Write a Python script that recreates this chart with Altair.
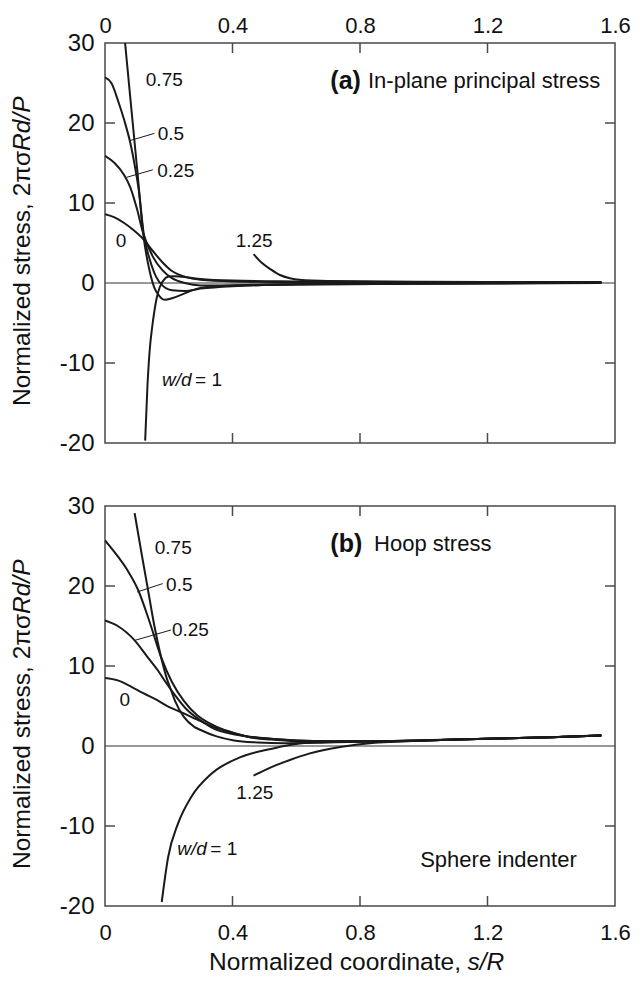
import altair as alt
import pandas as pd

# ---------------- data ----------------
# Panel (a) In-plane principal stress : s/R values and normalized stress
a0_s = [0, 0.03, 0.06, 0.09, 0.12, 0.15, 0.18, 0.21, 0.25, 0.3, 0.4, 0.6, 1.0, 1.557]
a0_v = [8.6, 8.2, 7.5, 6.6, 5.5, 4.0, 2.6, 1.5, 0.8, 0.4, 0.2, 0.1, 0.1, 0.1]
a25_s = [0, 0.03, 0.06, 0.08, 0.1, 0.12, 0.15, 0.18, 0.21, 0.25, 0.3, 0.4, 0.6, 1.0, 1.557]
a25_v = [15.9, 15.0, 13.5, 11.9, 9.3, 6.2, 3.3, 1.6, 0.6, 0.0, -0.3, -0.3, -0.15, 0.0, 0.1]
a5_s = [0, 0.02, 0.044, 0.06, 0.08, 0.095, 0.106, 0.122, 0.14, 0.16, 0.18, 0.21, 0.25, 0.3, 0.4, 0.6, 1.0, 1.557]
a5_v = [25.7, 25.0, 22.4, 20.4, 17.4, 14.3, 11.6, 6.0, 3.0, 0.8, -0.3, -0.9, -1.0, -0.7, -0.4, -0.2, -0.1, 0.05]
a75_s = [0.063, 0.08, 0.1, 0.121, 0.14, 0.155, 0.17, 0.188, 0.21, 0.25, 0.29, 0.35, 0.5, 1.0, 1.557]
a75_v = [30.0, 22.9, 14.6, 5.8, 1.5, -0.6, -1.6, -2.1, -1.9, -1.3, -0.7, -0.4, -0.2, -0.1, 0.0]
a1_s = [0.126, 0.133, 0.14, 0.148, 0.155, 0.162, 0.172, 0.183, 0.2, 0.22, 0.26, 0.3, 0.4, 0.6, 1.0, 1.557]
a1_v = [-19.7, -13.0, -8.5, -5.5, -3.5, -1.9, -0.5, 0.3, 0.8, 0.85, 0.7, 0.5, 0.3, 0.2, 0.1, 0.1]
a125_s = [0.466, 0.49, 0.52, 0.549, 0.58, 0.61, 0.7, 1.0, 1.557]
a125_v = [3.6, 2.6, 1.7, 1.0, 0.6, 0.4, 0.25, 0.15, 0.1]

# Panel (b) Hoop stress
b0_s = [0, 0.04, 0.083, 0.12, 0.165, 0.2, 0.24, 0.3, 0.34, 0.4, 0.454, 0.52, 0.6, 0.7, 0.85, 1.0, 1.2, 1.4, 1.557]
b0_v = [8.5, 8.2, 7.4, 6.6, 5.7, 4.9, 4.2, 3.1, 2.4, 1.7, 1.1, 0.8, 0.6, 0.55, 0.6, 0.7, 0.9, 1.1, 1.3]
b25_s = [0, 0.04, 0.093, 0.13, 0.165, 0.19, 0.217, 0.258, 0.3, 0.34, 0.4, 0.45, 0.52, 0.6, 0.7, 0.85, 1.0, 1.2, 1.4, 1.557]
b25_v = [15.7, 15.0, 13.2, 11.3, 9.5, 8.0, 6.5, 4.5, 3.2, 2.2, 1.5, 1.2, 0.9, 0.7, 0.6, 0.6, 0.7, 0.9, 1.1, 1.3]
b5_s = [0, 0.042, 0.07, 0.104, 0.14, 0.176, 0.21, 0.248, 0.29, 0.33, 0.38, 0.444, 0.52, 0.6, 0.7, 0.85, 1.0, 1.2, 1.4, 1.557]
b5_v = [25.7, 23.6, 22.0, 19.5, 15.5, 11.1, 8.0, 5.6, 3.8, 2.8, 1.9, 1.2, 0.9, 0.7, 0.6, 0.6, 0.7, 0.9, 1.1, 1.35]
b75_s = [0.093, 0.115, 0.135, 0.155, 0.176, 0.195, 0.207, 0.22, 0.248, 0.28, 0.3, 0.35, 0.405, 0.48, 0.56, 0.7, 0.85, 1.0, 1.2, 1.4, 1.557]
b75_v = [29.1, 24.0, 19.5, 15.0, 11.1, 8.3, 7.0, 5.6, 3.6, 2.4, 2.0, 1.2, 0.7, 0.45, 0.35, 0.45, 0.55, 0.7, 0.9, 1.1, 1.3]
b1_s = [0.178, 0.198, 0.229, 0.27, 0.333, 0.425, 0.528, 0.61, 0.7, 0.85, 1.0, 1.2, 1.4, 1.557]
b1_v = [-19.5, -13.9, -9.7, -6.4, -3.5, -1.4, -0.3, 0.3, 0.5, 0.6, 0.7, 0.9, 1.1, 1.3]
b125_s = [0.466, 0.5, 0.537, 0.58, 0.64, 0.743, 0.846, 0.95, 1.0, 1.2, 1.4, 1.557]
b125_v = [-3.7, -3.05, -2.4, -1.75, -0.95, -0.1, 0.4, 0.6, 0.7, 0.9, 1.1, 1.3]

curve_names = ["0", "0.25", "0.5", "0.75", "1", "1.25"]
panel_a = [(a0_s, a0_v), (a25_s, a25_v), (a5_s, a5_v), (a75_s, a75_v), (a1_s, a1_v), (a125_s, a125_v)]
panel_b = [(b0_s, b0_v), (b25_s, b25_v), (b5_s, b5_v), (b75_s, b75_v), (b1_s, b1_v), (b125_s, b125_v)]

# curve labels: text, s, value
a_lab_text = ["0.75", "0.5", "0.25", "0", "1.25"]
a_lab_s = [0.186, 0.207, 0.222, 0.050, 0.468]
a_lab_v = [25.4, 18.65, 14.06, 5.3, 5.3]
b_lab_text = ["0.75", "0.5", "0.25", "0", "1.25"]
b_lab_s = [0.214, 0.233, 0.268, 0.062, 0.470]
b_lab_v = [24.7, 20.1, 14.5, 5.7, -5.9]

# leader lines: s1, v1, s2, v2
a_lead = [(0.078, 17.8, 0.155, 18.7), (0.067, 13.2, 0.150, 14.15)]
b_lead = [(0.101, 19.25, 0.181, 20.3), (0.093, 13.2, 0.207, 14.5)]

# w/d = 1 label position (left edge)
a_wd = (0.179, -12.1)
b_wd = (0.227, -12.9)

x_ticks = [0, 0.4, 0.8, 1.2, 1.6]
y_ticks = [-20, -10, 0, 10, 20, 30]
inner_x_ticks = [0.4, 0.8, 1.2]
inner_y_ticks = [-10, 10, 20]

W, H = 510, 400
FONT = "Liberation Sans"
INK = "#1a1a1a"
TXT = "#111111"
FRAME = "#4a4a4a"
XTICK_FS = 22
YTICK_FS = 24
TITLE_FS = 24.5


def curves_df(panel):
    rows = []
    for name, (ss, vv) in zip(curve_names, panel):
        for s, v in zip(ss, vv):
            rows.append({"s": s, "v": v, "curve": name})
    return pd.DataFrame(rows)


def txt(text, x, y, **kw):
    params = dict(font=FONT, color=TXT)
    params.update(kw)
    return alt.Chart(pd.DataFrame({"k": [0]})).mark_text(**params).encode(
        x=x, y=y, text=alt.value(text))


def make_panel(panel, lab_text, lab_s, lab_v, leads, wd, title_bold, title_rest, rest_s,
               top_axis, bottom_title=False, extra=None):
    xscale = alt.Scale(domain=[0, 1.6], nice=False, zero=False)
    yscale = alt.Scale(domain=[-20, 30], nice=False, zero=False)
    common = dict(values=x_ticks, ticks=False, domain=False, grid=False,
                  labelFontSize=XTICK_FS, labelFlush=False, labelOverlap=False,
                  labelExpr="datum.value + ''", title=None, labelColor=TXT)
    if top_axis:
        xaxis = alt.Axis(orient="top", labelPadding=6, **common)
    else:
        xaxis = alt.Axis(orient="bottom", labelPadding=16, **common)
    yaxis = alt.Axis(values=y_ticks, ticks=False, domain=False, grid=False,
                     labelFontSize=YTICK_FS, labelPadding=11, labelFlush=False,
                     labelExpr="datum.value + ''", title=None, labelColor=TXT)

    df = curves_df(panel)
    lines = alt.Chart(df).mark_line(color=INK, strokeWidth=2, interpolate="monotone",
                                    clip=True).encode(
        x=alt.X("s:Q", scale=xscale, axis=xaxis),
        y=alt.Y("v:Q", scale=yscale, axis=yaxis),
        detail="curve:N",
    )
    zero = alt.Chart(pd.DataFrame({"v": [0]})).mark_rule(color="#333", strokeWidth=1).encode(
        y=alt.Y("v:Q", scale=yscale)
    )
    xt = pd.DataFrame({"t": inner_x_ticks})
    yt = pd.DataFrame({"t": inner_y_ticks})
    tk = dict(color=FRAME, strokeWidth=1.5)
    ticks_top = alt.Chart(xt).mark_rule(**tk).encode(
        x=alt.X("t:Q", scale=xscale), y=alt.value(0), y2=alt.value(10))
    ticks_bot = alt.Chart(xt).mark_rule(**tk).encode(
        x=alt.X("t:Q", scale=xscale), y=alt.value(H - 10), y2=alt.value(H))
    ticks_left = alt.Chart(yt).mark_rule(**tk).encode(
        y=alt.Y("t:Q", scale=yscale), x=alt.value(0), x2=alt.value(10))
    ticks_right = alt.Chart(yt).mark_rule(**tk).encode(
        y=alt.Y("t:Q", scale=yscale), x=alt.value(W - 10), x2=alt.value(W))

    labs = alt.Chart(pd.DataFrame({"t": lab_text, "s": lab_s, "v": lab_v})).mark_text(
        font=FONT, fontSize=19, color=TXT, align="center", baseline="middle").encode(
        x=alt.X("s:Q", scale=xscale), y=alt.Y("v:Q", scale=yscale), text="t:N")
    ld = pd.DataFrame([{"s1": a, "v1": b, "s2": c, "v2": d} for a, b, c, d in leads])
    leaders = alt.Chart(ld).mark_rule(color=INK, strokeWidth=1).encode(
        x=alt.X("s1:Q", scale=xscale), y=alt.Y("v1:Q", scale=yscale), x2="s2:Q", y2="v2:Q")
    wd_df = pd.DataFrame({"s": [wd[0]], "v": [wd[1]]})
    wd1 = alt.Chart(wd_df).mark_text(font=FONT, fontSize=19, fontStyle="italic", color=TXT,
                                     align="left", baseline="middle").encode(
        x=alt.X("s:Q", scale=xscale), y=alt.Y("v:Q", scale=yscale), text=alt.value("w/d"))
    wd2 = alt.Chart(wd_df).mark_text(font=FONT, fontSize=19, color=TXT, dx=33,
                                     align="left", baseline="middle").encode(
        x=alt.X("s:Q", scale=xscale), y=alt.Y("v:Q", scale=yscale), text=alt.value("= 1"))

    t_df = pd.DataFrame({"s": [0.707], "v": [25.3]})
    tb = alt.Chart(t_df).mark_text(font=FONT, fontSize=25, fontWeight="bold", color=TXT,
                                   align="left", baseline="middle").encode(
        x=alt.X("s:Q", scale=xscale), y=alt.Y("v:Q", scale=yscale), text=alt.value(title_bold))
    tr_df = pd.DataFrame({"s": [rest_s], "v": [25.3]})
    tr = alt.Chart(tr_df).mark_text(font=FONT, fontSize=22, color=TXT,
                                    align="left", baseline="middle").encode(
        x=alt.X("s:Q", scale=xscale), y=alt.Y("v:Q", scale=yscale), text=alt.value(title_rest))

    # y-axis title: normal part + italic part joined at a common anchor
    ysplit = 108
    yt1 = txt("Normalized stress, 2πσ", alt.value(-82), alt.value(ysplit),
              fontSize=TITLE_FS, angle=270, align="right", baseline="middle")
    yt2 = txt("Rd/P", alt.value(-82), alt.value(ysplit),
              fontSize=TITLE_FS, angle=270, align="left", baseline="middle",
              fontStyle="italic")

    layers = [zero, lines, ticks_top, ticks_bot, ticks_left, ticks_right, labs, leaders,
              wd1, wd2, tb, tr, yt1, yt2]
    if bottom_title:
        layers.append(txt("Normalized coordinate,", alt.value(356), alt.value(H + 64),
                          fontSize=TITLE_FS, align="right", baseline="alphabetic"))
        layers.append(txt("s/R", alt.value(362.5), alt.value(H + 64),
                          fontSize=TITLE_FS, align="left", baseline="alphabetic",
                          fontStyle="italic"))
    if extra is not None:
        layers.append(extra(xscale, yscale))
    return alt.layer(*layers).properties(width=W, height=H)


def sphere(xscale, yscale):
    return alt.Chart(pd.DataFrame({"s": [1.48], "v": [-14.2]})).mark_text(
        font=FONT, fontSize=22, color=TXT, align="right", baseline="middle").encode(
        x=alt.X("s:Q", scale=xscale), y=alt.Y("v:Q", scale=yscale),
        text=alt.value("Sphere indenter"))


pa = make_panel(panel_a, a_lab_text, a_lab_s, a_lab_v, a_lead, a_wd,
                "(a)", "In-plane principal stress", 0.825, top_axis=True)
pb = make_panel(panel_b, b_lab_text, b_lab_s, b_lab_v, b_lead, b_wd,
                "(b)", "Hoop stress", 0.844, top_axis=False, bottom_title=True, extra=sphere)

chart = alt.vconcat(pa, pb, spacing=37).properties(
    padding={"left": 1, "top": 5, "right": 0, "bottom": 0}
).configure(font=FONT).configure_view(stroke=FRAME, strokeWidth=1.5)

chart.save("out.html", embed_options={"renderer": "svg", "actions": False})
